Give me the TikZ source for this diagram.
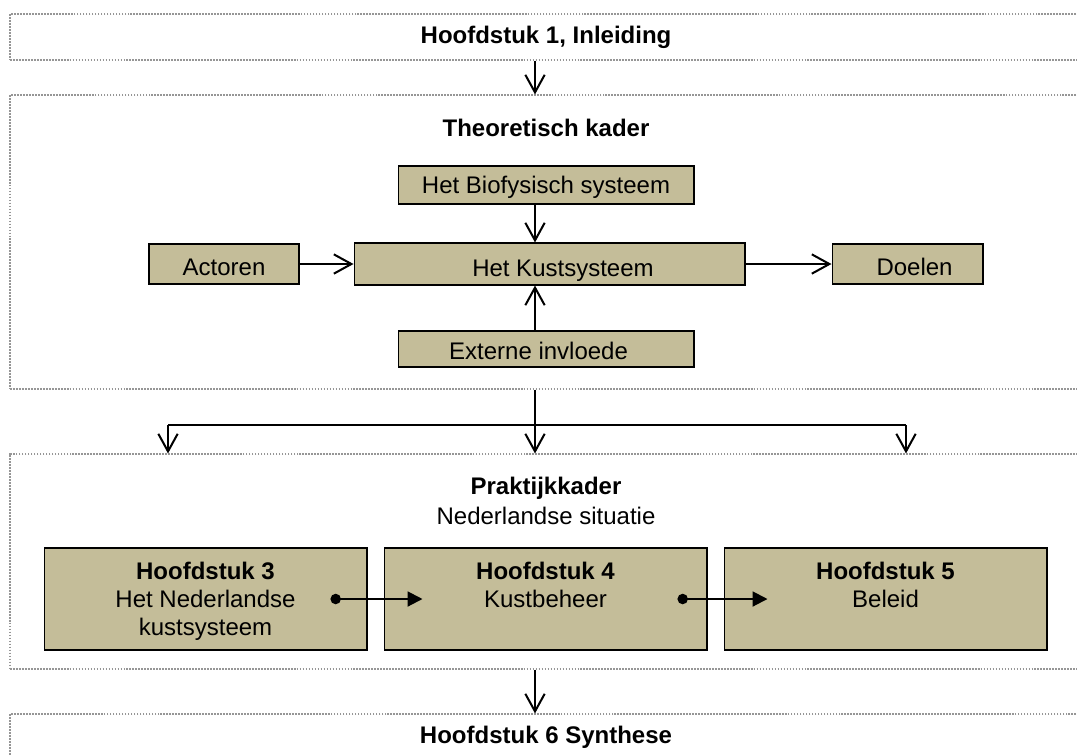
\documentclass[tikz,border=0pt]{standalone}
\usepackage{fontspec}
\setmainfont{Liberation Sans}
\usetikzlibrary{arrows.meta,fit}

\definecolor{tan}{RGB}{196,189,153}
\definecolor{frame}{RGB}{150,150,150}

\begin{document}
\begin{tikzpicture}[x=0.02cm,y=-0.02cm,
  every node/.style={font=\fontsize{13.66pt}{15.94pt}\selectfont},
  outer/.style={draw=frame,line width=0.6pt,dash pattern=on 1pt off 0.7pt,inner sep=0pt},
  tbox/.style={draw=black,line width=0.6pt,fill=tan,inner sep=0pt,text depth=0pt},
  arr/.style={line width=1.15pt,-{Straight Barb[length=10pt,width=11pt,line width=1.15pt]}},
  bus/.style={line width=1.15pt},
  dotarr/.style={line width=1.15pt,{Circle[length=5.9pt]}-{Triangle[length=8.5pt,width=8.5pt]}},
  title/.style={font=\fontsize{13.66pt}{15.94pt}\selectfont\bfseries}
]
\useasboundingbox (0,0) rectangle (1077,754);
\clip (0,0) rectangle (1077,754);
\fill[white] (0,0) rectangle (1077,754);

% column through which the main connectors run
\coordinate (spine) at (535,0);

% outer frames (they run on past the right and bottom edges)
\node[outer,fit={(10,14) (1095,60)}] (ch1) {};
\node[outer,fit={(10,95) (1095,389)}] (theo) {};
\node[outer,fit={(10,454) (1095,669)}] (prak) {};
\node[outer,fit={(10,714) (1095,790)}] (ch6) {};

% frame titles
\node[title] (t1) at (546,37) {Hoofdstuk 1, Inleiding};
\node[title] (t2) at (546,128) {Theoretisch kader};
\node[title] (t3) at (546,488) {Praktijkkader};
\node (t3b) at (546,516) {Nederlandse situatie};
\node[title] (t6) at (546,737) {Hoofdstuk 6 Synthese};

% theoretical framework
\node[tbox,text height=9.4pt,minimum width=5.92cm,minimum height=0.76cm] (biof) at (546,185) {Het Biofysisch systeem};
\node[tbox,text height=14.4pt,minimum width=7.82cm,minimum height=0.84cm] (kust) at (549.5,264) {\hspace*{15.3pt}Het Kustsysteem};
\node[tbox,text height=13.2pt,minimum width=3.0cm,minimum height=0.8cm] (act) at (224,264) {Actoren};
\node[tbox,text height=13.2pt,minimum width=3.02cm,minimum height=0.8cm] (doel) at (907.5,264) {\hspace*{8pt}Doelen};
\node[tbox,text height=11.4pt,minimum width=5.92cm,minimum height=0.72cm] (ext) at (546,349) {Externe invloede\hspace*{8.5pt}};

\draw[arr] (biof.south -| spine) -- (kust.north -| spine);
\draw[arr] (ext.north -| spine) -- (kust.south -| spine);
\draw[arr] (act.east) -- (kust.west);
\draw[arr] (kust.east) -- (doel.west);

% chapter boxes of the practical framework
\tikzset{chap/.style={draw=black,line width=0.6pt,fill=tan,inner sep=0pt,
  minimum width=6.46cm,minimum height=2.04cm,align=center}}
\node[chap] (h3) at (205.5,599) {\textbf{Hoofdstuk 3}\\Het Nederlandse\\\smash{kustsysteem}};
\node[chap] (h4) at (545.5,599) {\textbf{Hoofdstuk 4}\\Kustbeheer\\\mbox{}};
\node[chap] (h5) at (885.5,599) {\textbf{Hoofdstuk 5}\\Beleid\\\mbox{}};

\draw[dotarr] ([xshift=-0.74cm]h3.east) -- ([xshift=0.78cm]h4.west);
\draw[dotarr] ([xshift=-0.6cm]h4.east) -- ([xshift=0.88cm]h5.west);

% connectors between the frames
\draw[arr] (ch1.south -| spine) -- (theo.north -| spine);
\coordinate (busL) at (168,425);
\coordinate (busR) at (906,425);
\draw[bus] (busL) -- (busR);
\draw[arr] (theo.south -| spine) -- (prak.north -| spine);
\draw[arr] (busL) -- (prak.north -| busL);
\draw[arr] (busR) -- (prak.north -| busR);
\draw[arr] (prak.south -| spine) -- (ch6.north -| spine);
\end{tikzpicture}
\end{document}
